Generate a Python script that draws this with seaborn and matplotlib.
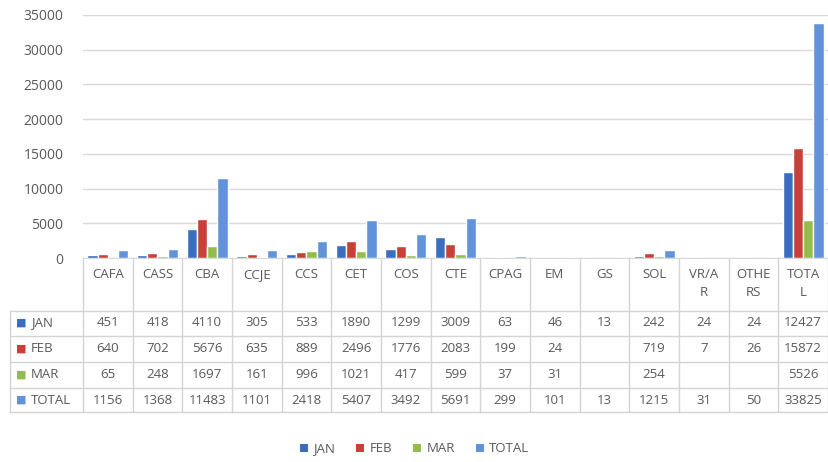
import numpy as np
import pandas as pd
import matplotlib
matplotlib.use('Agg')
import matplotlib.pyplot as plt
import matplotlib.transforms as mtransforms
from matplotlib.patches import Patch
import seaborn as sns

# 데이터
categories = ['CAFA', 'CASS', 'CBA', 'CCJE', 'CCS', 'CET', 'COS', 'CTE', 'CPAG',
              'EM', 'GS', 'SOL', 'VR/AR', 'OTHERS', 'TOTAL']
header_labels = ['CAFA', 'CASS', 'CBA', 'CCJE', 'CCS', 'CET', 'COS', 'CTE', 'CPAG',
                 'EM', 'GS', 'SOL', 'VR/A\nR', 'OTHE\nRS', 'TOTA\nL']
series_names = ['JAN', 'FEB', 'MAR', 'TOTAL']
jan = [451, 418, 4110, 305, 533, 1890, 1299, 3009, 63, 46, 13, 242, 24, 24, 12427]
feb = [640, 702, 5676, 635, 889, 2496, 1776, 2083, 199, 24, np.nan, 719, 7, 26, 15872]
mar = [65, 248, 1697, 161, 996, 1021, 417, 599, 37, 31, np.nan, 254, np.nan, np.nan, 5526]
total = [1156, 1368, 11483, 1101, 2418, 5407, 3492, 5691, 299, 101, 13, 1215, 31, 50, 33825]
y_ticks = [0, 5000, 10000, 15000, 20000, 25000, 30000, 35000]

colors = ['#3a6dbf', '#c8403a', '#92bd4c', '#6293da']
text_col = '#595959'
grid_col = '#d9d9d9'

df = pd.DataFrame({'category': categories, 'JAN': jan, 'FEB': feb, 'MAR': mar, 'TOTAL': total})
long_df = df.melt(id_vars='category', var_name='month', value_name='count')

sns.set_style('white')
plt.rcParams['font.family'] = ['Open Sans', 'DejaVu Sans']

W, H = 829, 462
fig = plt.figure(figsize=(W / 100, H / 100), dpi=100)
ax = fig.add_axes([83 / W, 1 - 258 / H, (828 - 83) / W, (258 - 15) / H])

sns.barplot(data=long_df, x='category', y='count', hue='month', order=categories,
            hue_order=series_names, palette=colors, width=0.82, saturation=1,
            ax=ax, legend=False)

ax.set_ylim(0, 35000)
ax.set_xlim(-0.5, len(categories) - 0.5)
ax.set_yticks(y_ticks)
ax.set_yticklabels([str(t) for t in y_ticks], fontsize=10, color=text_col)
ax.tick_params(axis='y', length=0, pad=14)
ax.set_xticks([])
ax.set_xlabel('')
ax.set_ylabel('')
ax.yaxis.grid(True, color=grid_col, linewidth=1)
ax.set_axisbelow(True)
for s in ['top', 'right', 'left']:
    ax.spines[s].set_visible(False)
ax.spines['bottom'].set_color(grid_col)

# 데이터 테이블
trans = mtransforms.blended_transform_factory(ax.transData, fig.transFigure)
def fy(py):
    return 1 - py / H

row_lines = [311, 336, 362, 388, 412]
left_x = (10 - 83) / ((828 - 83) / len(categories)) - 0.5
right_x = len(categories) - 0.5
lc = '#d4d4d4'

# 세로선
for i in range(len(categories) + 1):
    x = i - 0.5
    ax.plot([x, x], [fy(258), fy(412)], transform=trans, color=lc, lw=1, clip_on=False)
ax.plot([left_x, left_x], [fy(311), fy(412)], transform=trans, color=lc, lw=1, clip_on=False)
# 가로선
for py in row_lines:
    ax.plot([left_x, right_x], [fy(py), fy(py)], transform=trans, color=lc, lw=1, clip_on=False)

# 헤더
for i, lab in enumerate(header_labels):
    ax.text(i, fy(268), lab, transform=trans, ha='center', va='top', fontsize=9.5,
            color=text_col, linespacing=1.5)

# 행
row_centers = [323, 349, 375, 400]
series_vals = [jan, feb, mar, total]
for r, (name, vals) in enumerate(zip(series_names, series_vals)):
    yc = fy(row_centers[r])
    ax.text(left_x + 0.12, yc, '■', transform=trans, ha='left', va='center',
            fontsize=8, color=colors[r])
    ax.text(left_x + 0.42, yc, name, transform=trans, ha='left', va='center',
            fontsize=9.5, color=text_col)
    for i, v in enumerate(vals):
        if not np.isnan(v):
            ax.text(i, yc, f'{int(v)}', transform=trans, ha='center', va='center',
                    fontsize=9.5, color=text_col)

# 범례
handles = [Patch(facecolor=c, edgecolor='none') for c in colors]
fig.legend(handles, series_names, loc='center', bbox_to_anchor=(0.5, 1 - 449 / H),
           ncol=4, frameon=False, fontsize=9.5, handlelength=0.6, handleheight=0.6,
           handletextpad=0.4, columnspacing=1.6, labelcolor=text_col)

fig.savefig('out.png', dpi=100, facecolor='white')
